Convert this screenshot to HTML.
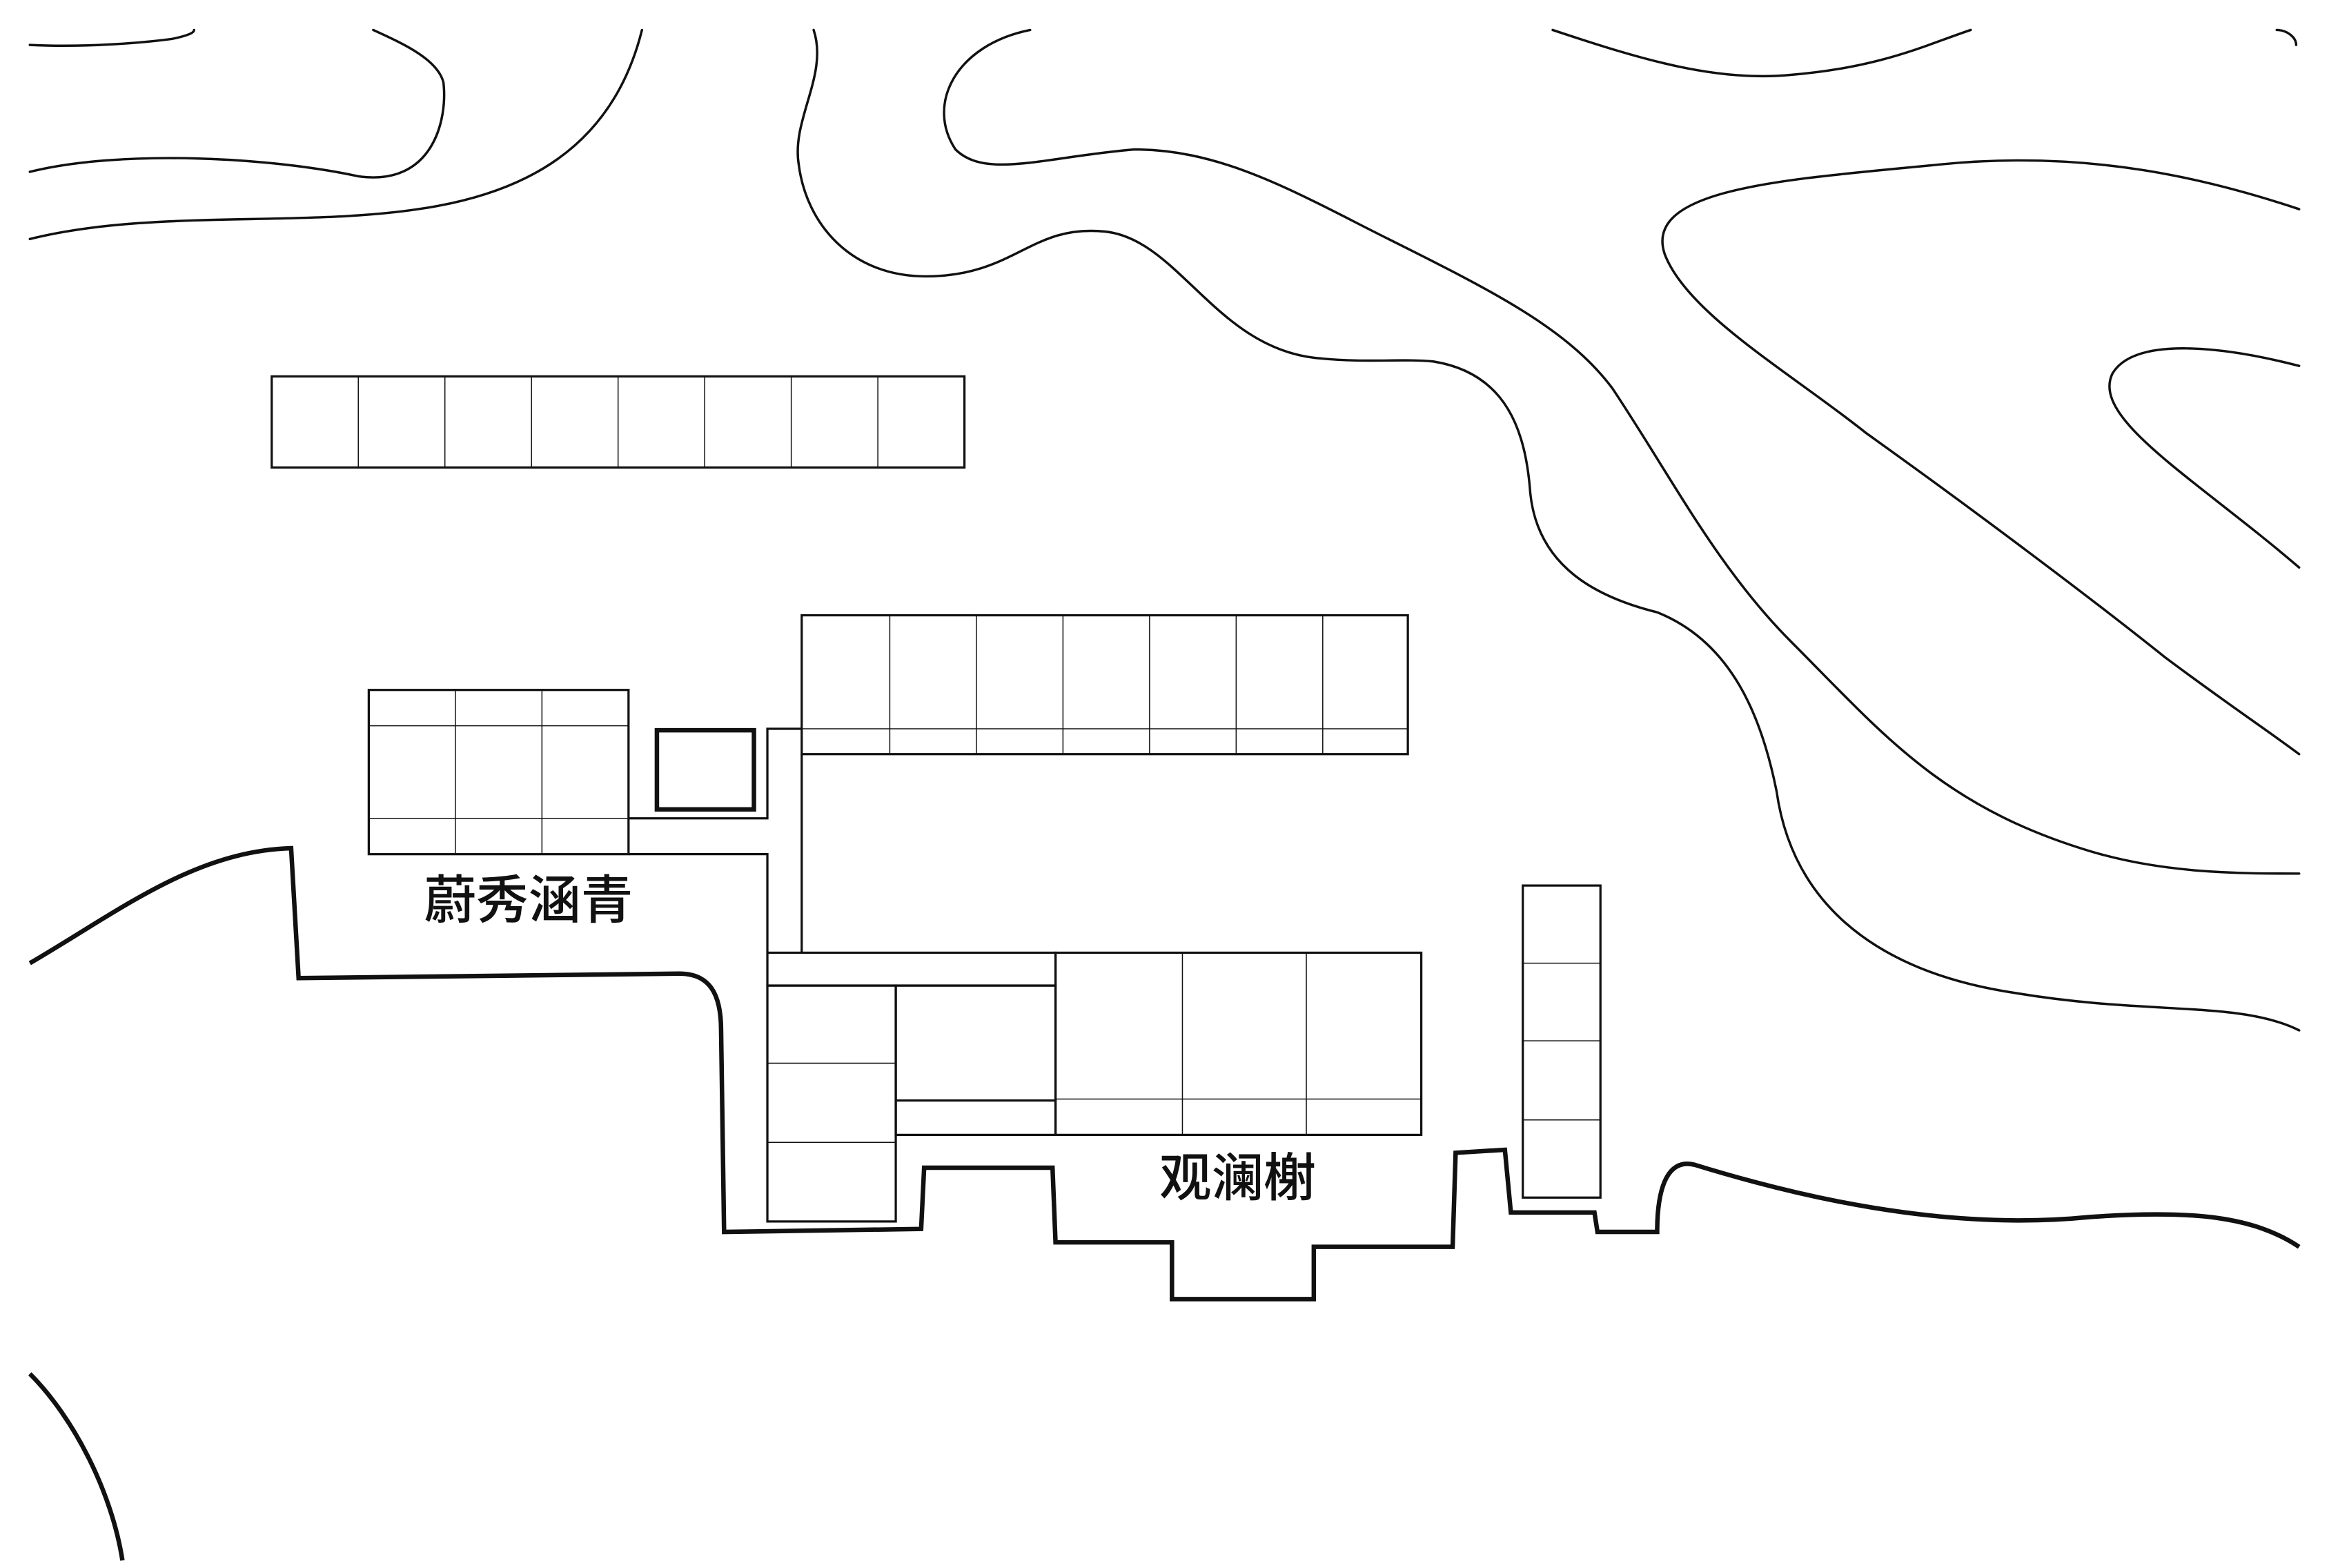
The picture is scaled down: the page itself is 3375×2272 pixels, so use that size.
<!DOCTYPE html>
<html><head><meta charset="utf-8"><style>
html,body{margin:0;padding:0;background:#fff;}
svg{display:block;}
</style></head><body>
<svg width="3375" height="2272" viewBox="0 0 1560 1050" xmlns="http://www.w3.org/2000/svg">
<rect width="1560" height="1050" fill="#fff"/>
<g fill="none" stroke="#111" stroke-width="1.6" stroke-linecap="round" stroke-linejoin="round">
<path d="M20,30 C60,32 100,28 115,26 C125,24 130,22 130,20"/>
<path d="M20,115 C80,100 180,105 240,118 C290,125 300,80 297,55 C293,40 272,30 250,20"/>
<path d="M20,160 C100,140 200,152 280,140 C350,130 410,100 430,20"/>
<path d="M545,20 C555,50 530,80 535,110 C540,150 570,185 620,185 C680,185 690,150 740,155 C790,160 815,235 885,240 C915,243 940,240 960,242 C1010,250 1022,290 1025,330 C1030,380 1070,400 1110,410 C1160,430 1180,480 1190,530 C1200,600 1250,650 1350,665 C1440,680 1500,670 1540,690"/>
<path d="M690,20 C640,30 620,70 640,100 C660,120 700,105 760,100 C820,100 870,130 930,160 C1000,195 1050,220 1080,260 C1120,320 1150,380 1200,430 C1260,490 1300,540 1400,570 C1450,585 1500,585 1540,585"/>
<path d="M1040,20 C1100,40 1150,55 1200,50 C1260,45 1290,30 1320,20"/>
<path d="M1540,140 C1480,120 1400,100 1300,110 C1200,120 1100,125 1115,170 C1130,210 1200,250 1250,290 C1320,340 1400,400 1450,440 C1490,470 1520,490 1540,505"/>
<path d="M1540,245 C1490,232 1430,225 1415,250 C1400,280 1470,320 1540,380"/>
<path d="M1525,20 C1532,20 1538,25 1538,30"/>
</g>
<g fill="none" stroke="#111" stroke-width="3" stroke-linejoin="miter">
<path d="M20,645 C80,610 130,570 195,568 L200,655 L455,652 C475,652 483,665 483,690 L485,825 L617,823 L619,782 L705,782 L707,832 L785,832 L785,870 L880,870 L880,835 L973,835 L975,772 L1008,770 L1012,812 L1068,812 L1070,825 L1110,825 C1110,800 1115,775 1135,780 C1200,800 1300,825 1400,815 C1470,810 1510,815 1540,835"/>
<path d="M20,920 C50,950 75,1000 82,1045"/>
<rect x="440" y="489" width="65" height="53"/>
</g>
<g fill="none" stroke="#111" stroke-width="1.5">
<rect x="182" y="252" width="464" height="61"/>
<path d="M240,252V313M298,252V313M356,252V313M414,252V313M472,252V313M530,252V313M588,252V313" stroke-width="0.7"/>
<rect x="537" y="412" width="406" height="93"/>
<path d="M596,412V505M654,412V505M712,412V505M770,412V505M828,412V505M886,412V505M537,488H943" stroke-width="0.7"/>
<rect x="247" y="462" width="174" height="110"/>
<path d="M305,462V572M363,462V572M247,486H421M247,548H421" stroke-width="0.7"/>
<path d="M421,548H514V488H537M421,572H514V638M537,505V638"/>
<rect x="514" y="638" width="193" height="22"/>
<rect x="514" y="660" width="86" height="158"/>
<path d="M514,712H600M514,765H600" stroke-width="0.7"/>
<rect x="600" y="660" width="107" height="100"/>
<path d="M600,737H707"/>
<rect x="707" y="638" width="245" height="122"/>
<path d="M792,638V760M875,638V760M707,736H952" stroke-width="0.7"/>
<rect x="1020" y="593" width="52" height="209"/>
<path d="M1020,645H1072M1020,697H1072M1020,750H1072" stroke-width="0.7"/>
</g>
<g font-family="'Liberation Sans','Noto Sans CJK SC',sans-serif" font-size="35" font-weight="500" fill="#111" text-anchor="middle">
<text x="354" y="615">蔚秀涵青</text>
<text x="829" y="801">观澜榭</text>
</g>
</svg>
</body></html>
